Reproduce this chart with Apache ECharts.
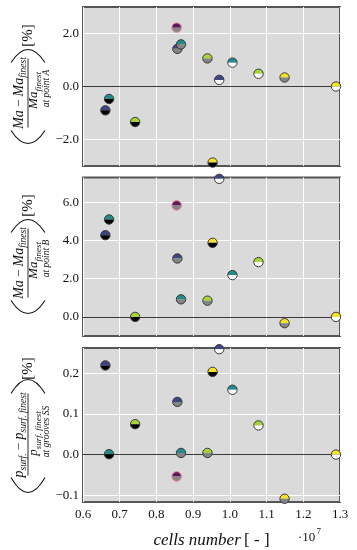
<!DOCTYPE html>
<html><head><meta charset="utf-8">
<script src="https://cdn.jsdelivr.net/npm/echarts@6/dist/echarts.min.js"></script>
<style>html,body{margin:0;padding:0;background:#fff}#c{width:357px;height:550px}</style>
</head><body><div id="c"></div>
<script>
// cells number (x 1e7) for each mesh
const cells = [0.661, 0.671, 0.742, 0.953, 0.857, 0.867, 0.939, 1.149, 0.971, 1.007, 1.078, 1.289, 0.855];
// marker top / bottom / edge colours per mesh
const topColors = ['#3e4585', '#23898c', '#a8d43a', '#f6e327', '#3e4585', '#23898c', '#a8d43a', '#f6e327', '#3e4585', '#23898c', '#a8d43a', '#f6e327', '#5a1b5e'];
const bottomColors = ['#000000', '#000000', '#000000', '#000000', '#858585', '#858585', '#858585', '#858585', '#ffffff', '#ffffff', '#ffffff', '#ffffff', '#858585'];
const edgeColors = ['#3a3a3a', '#3a3a3a', '#3a3a3a', '#3a3a3a', '#3a3a3a', '#3a3a3a', '#3a3a3a', '#3a3a3a', '#3a3a3a', '#3a3a3a', '#3a3a3a', '#3a3a3a', '#e8788c'];
// relative deviations [%]
const pointA = [-0.90, -0.47, -1.34, -2.87, 1.42, 1.59, 1.06, 0.34, 0.25, 0.90, 0.48, 0.00, 2.22];
const pointB = [4.28, 5.10, 0.00, 3.88, 3.06, 0.92, 0.85, -0.33, 7.23, 2.19, 2.87, 0.00, 5.84];
const groovesSS = [0.220, 0.001, 0.075, 0.204, 0.130, 0.004, 0.004, -0.109, 0.260, 0.160, 0.072, 0.000, -0.054];
// axis ticks
const xTicks = [0.6, 0.7, 0.8, 0.9, 1.0, 1.1, 1.2, 1.3];
const yTicksA = [-2, 0, 2];
const yTicksB = [0, 2, 4, 6];
const yTicksC = [-0.1, 0, 0.1, 0.2];

const SERIF = '"Liberation Serif", "DejaVu Serif", serif';
const chart = echarts.init(document.getElementById('c'), null, {renderer: 'canvas'});

const ctx = document.createElement('canvas').getContext('2d');
function measure(t, size, italic) {
  ctx.font = (italic ? 'italic ' : '') + size + 'px ' + SERIF;
  return ctx.measureText(t).width;
}
// build a math run: segments [{t, s(size), sub(bool), it(bool)}], centred at cx, bottom at y
function mathRun(segs, cx, y) {
  let total = 0;
  segs.forEach(s => { s.w = measure(s.t, s.s, s.it !== false); total += s.w; });
  let x = cx - total / 2;
  const out = [];
  segs.forEach(s => {
    out.push({type: 'text', x: x, y: y + (s.sub ? 2.5 : 0), style: {
      text: s.t, fontSize: s.s, fontStyle: s.it === false ? 'normal' : 'italic',
      fontFamily: SERIF, fill: '#111', align: 'left', verticalAlign: 'bottom'}});
    x += s.w;
  });
  return out;
}
function paren(xTip, xBulge, h) {
  return {type: 'bezierCurve', shape: {x1: xTip, y1: -h / 2, x2: xTip, y2: h / 2, cpx1: 2 * xBulge - xTip, cpy1: 0},
    style: {stroke: '#111', lineWidth: 1.1, fill: null}};
}
function yTitle(cy, cfg) {
  const children = [
    paren(cfg.lp[0], cfg.lp[1], 34),
    paren(cfg.rp[0], cfg.rp[1], 34),
    {type: 'line', shape: {x1: cfg.bar[0], y1: 0, x2: cfg.bar[1], y2: 0}, style: {stroke: '#111', lineWidth: 0.9}},
    ...mathRun(cfg.num, cfg.numC, -2),
    ...mathRun(cfg.den, cfg.denC, 12.5),
    {type: 'text', x: cfg.subC, y: 18.5, style: {text: cfg.sub, fontSize: 9.5, fontStyle: 'italic', fontFamily: SERIF,
      fill: '#111', align: 'center', verticalAlign: 'middle'}},
    {type: 'text', x: cfg.pct, y: 0, style: {text: '[%]', fontSize: 15, fontFamily: SERIF, fill: '#111',
      align: 'center', verticalAlign: 'middle'}}
  ];
  return {type: 'group', x: 28, y: cy, rotation: Math.PI / 2, children: children};
}

const maSegs = () => [{t: 'Ma', s: 14}, {t: ' \u2212 ', s: 13, it: false}, {t: 'Ma', s: 14}, {t: 'finest', s: 9.5, sub: true}];
const maDen = () => [{t: 'Ma', s: 13}, {t: 'finest', s: 9, sub: true}];

const grids = [
  {left: 83, width: 257, top: 7, height: 159},
  {left: 83, width: 257, top: 177.5, height: 158.5},
  {left: 83, width: 257, top: 348, height: 158}
];
grids.forEach(g => { g.show = true; g.backgroundColor = '#dadada'; g.borderColor = '#555'; g.borderWidth = 2; g.containLabel = false; });

function fmt1(v) { return (v < 0 ? '\u2212' : '') + Math.abs(v).toFixed(1); }

const xAxes = [0, 1, 2].map(i => ({
  type: 'value', gridIndex: i, min: 0.6, max: 1.3, interval: 0.1,
  axisLine: {show: false}, axisTick: {show: false, customValues: xTicks},
  splitLine: {show: true, lineStyle: {color: '#ffffff', width: 1}},
  axisLabel: {show: i === 2, customValues: xTicks, formatter: v => v.toFixed(1), fontFamily: SERIF, fontSize: 13, color: '#111', margin: 6},
  name: i === 2 ? '{i|cells number} {r|[ - ]}' : '', nameLocation: 'middle', nameGap: 30,
  nameTextStyle: {rich: {i: {fontFamily: SERIF, fontStyle: 'italic', fontSize: 17, color: '#111'}, r: {fontFamily: SERIF, fontSize: 17, color: '#111'}}}
}));
const yDefs = [
  {min: -3, max: 3, ticks: yTicksA, split: 3},
  {min: -1, max: 7.3, ticks: yTicksB, split: 4},
  {min: -0.117, max: 0.263, ticks: yTicksC, split: 4}
];
const yAxes = yDefs.map((d, i) => ({
  type: 'value', gridIndex: i, min: d.min, max: d.max, splitNumber: d.split,
  axisLine: {show: false}, axisTick: {show: false, customValues: d.ticks},
  splitLine: {show: true, lineStyle: {color: '#ffffff', width: 1}},
  axisLabel: {customValues: d.ticks, formatter: fmt1, fontFamily: SERIF, fontSize: 13, color: '#111', margin: 4}
}));

function renderMarker(params, api) {
  const p = api.coord([api.value(0), api.value(1)]);
  const i = params.dataIndex;
  const r = 4.7;
  return {type: 'group', children: [
    {type: 'sector', shape: {cx: p[0], cy: p[1], r0: 0, r: r, startAngle: Math.PI, endAngle: 2 * Math.PI, clockwise: true}, style: {fill: topColors[i]}},
    {type: 'sector', shape: {cx: p[0], cy: p[1], r0: 0, r: r, startAngle: 0, endAngle: Math.PI, clockwise: true}, style: {fill: bottomColors[i]}},
    {type: 'circle', shape: {cx: p[0], cy: p[1], r: r}, style: {fill: 'none', stroke: edgeColors[i], lineWidth: 1}}
  ]};
}

const values = [pointA, pointB, groovesSS];
const series = [];
values.forEach((vals, i) => {
  series.push({
    type: 'line', xAxisIndex: i, yAxisIndex: i, data: [], z: 2, silent: true,
    markLine: {silent: true, symbol: 'none', label: {show: false}, animation: false,
      lineStyle: {color: '#3a3a3a', width: 1.2, type: 'solid'}, data: [{yAxis: 0}]}
  });
  series.push({
    type: 'custom', xAxisIndex: i, yAxisIndex: i, z: 5, clip: false,
    data: cells.map((c, k) => [c, vals[k]]),
    renderItem: renderMarker
  });
});

const graphic = [
  yTitle(86.5, {lp: [-44, -57], rp: [24, 37], bar: [-41, 28], num: maSegs(), numC: -6.5, den: maDen(), denC: -4, sub: 'at point A', subC: -2, pct: 51}),
  yTitle(256.5, {lp: [-44, -57], rp: [24, 37], bar: [-41, 28], num: maSegs(), numC: -6.5, den: maDen(), denC: -4, sub: 'at point B', subC: -2, pct: 51}),
  yTitle(426.5, {lp: [-51, -66], rp: [33, 47], bar: [-49, 33],
    num: [{t: 'p', s: 14}, {t: 'surf.', s: 9.5, sub: true}, {t: ' \u2212 ', s: 13, it: false}, {t: 'p', s: 14}, {t: 'surf. finest', s: 9.5, sub: true}], numC: -8.5,
    den: [{t: 'p', s: 13}, {t: 'surf. finest', s: 9, sub: true}], denC: -7, sub: 'at grooves SS', subC: -5, pct: 58}),
  {type: 'text', x: 298, y: 538, style: {text: '\u00b710', fontSize: 13, fontFamily: SERIF, fill: '#111', verticalAlign: 'middle'}},
  {type: 'text', x: 316.5, y: 532, style: {text: '7', fontSize: 9, fontFamily: SERIF, fill: '#111', verticalAlign: 'middle'}}
];

chart.setOption({
  animation: false,
  backgroundColor: '#ffffff',
  grid: grids, xAxis: xAxes, yAxis: yAxes, series: series, graphic: graphic
});
</script>
</body></html>
